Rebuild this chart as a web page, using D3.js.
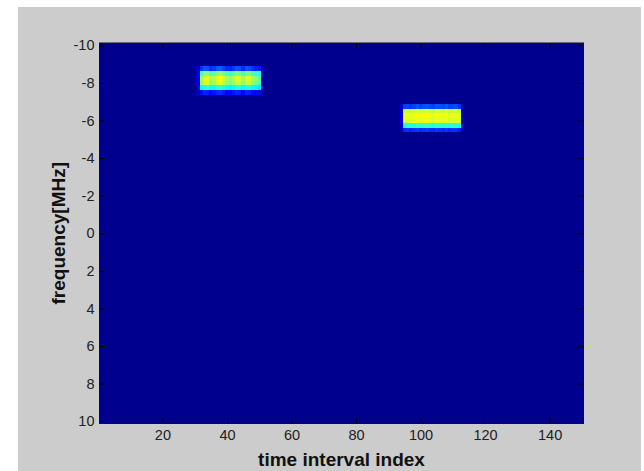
<!DOCTYPE html>
<html>
<head>
<meta charset="utf-8">
<script src="https://cdn.jsdelivr.net/npm/d3@7"></script>
<style>
  html, body { margin: 0; padding: 0; background: #ffffff; }
  svg { display: block; }
  .tick text { font-family: "Liberation Sans", Arial, sans-serif; font-size: 14.5px; fill: #222; }
  .axis-title { font-family: "Liberation Sans", Arial, sans-serif; font-size: 19px; font-weight: bold; fill: #111; }
</style>
</head>
<body>
<svg id="chart" width="644" height="471"></svg>
<script>
// Spectrogram of two narrowband bursts over 150 time intervals.
const timeCount = 150;            // time interval indices 1..150
const freqStep = 0.25;            // MHz per frequency bin
const freqMin = -10, freqMax = 10;

const xTicks = [20, 40, 60, 80, 100, 120, 140];
const yTicks = [-10, -8, -6, -4, -2, 0, 2, 4, 6, 8, 10];

const backgroundLevel = 0;        // normalised power outside the bursts

// Burst 1: around -8 MHz, time intervals 31..51
const burst1Start = 31;
const burst1Freqs = [-8.75, -8.5, -8.25, -8.0, -7.75, -7.5];
const burst1Power = [
  [0.04, 0.16, 0.20, 0.19, 0.15, 0.17, 0.20, 0.21, 0.18, 0.15, 0.14, 0.17, 0.20, 0.19, 0.15, 0.20, 0.18, 0.16, 0.14, 0.13, 0.03],
  [0.07, 0.44, 0.50, 0.50, 0.44, 0.46, 0.50, 0.52, 0.48, 0.44, 0.42, 0.46, 0.50, 0.48, 0.44, 0.50, 0.48, 0.44, 0.42, 0.40, 0.05],
  [0.08, 0.52, 0.60, 0.60, 0.52, 0.54, 0.60, 0.62, 0.58, 0.52, 0.50, 0.54, 0.60, 0.58, 0.52, 0.60, 0.58, 0.52, 0.50, 0.46, 0.06],
  [0.08, 0.50, 0.57, 0.58, 0.50, 0.52, 0.58, 0.60, 0.55, 0.50, 0.48, 0.52, 0.57, 0.56, 0.50, 0.58, 0.56, 0.50, 0.48, 0.44, 0.06],
  [0.05, 0.38, 0.40, 0.41, 0.37, 0.38, 0.41, 0.42, 0.40, 0.37, 0.36, 0.38, 0.40, 0.40, 0.37, 0.40, 0.40, 0.37, 0.36, 0.34, 0.04],
  [0.03, 0.12, 0.15, 0.14, 0.11, 0.13, 0.15, 0.16, 0.14, 0.11, 0.10, 0.13, 0.15, 0.14, 0.11, 0.15, 0.14, 0.12, 0.10, 0.10, 0.02]
];

// Burst 2: around -6 MHz, time intervals 94..113
const burst2Start = 94;
const burst2Freqs = [-6.75, -6.5, -6.25, -6.0, -5.75, -5.5];
const burst2Power = [
  [0.05, 0.17, 0.18, 0.16, 0.18, 0.20, 0.17, 0.19, 0.20, 0.18, 0.17, 0.20, 0.19, 0.18, 0.20, 0.17, 0.18, 0.19, 0.16, 0.04],
  [0.06, 0.55, 0.56, 0.55, 0.57, 0.58, 0.56, 0.57, 0.58, 0.56, 0.55, 0.58, 0.57, 0.56, 0.58, 0.55, 0.56, 0.57, 0.54, 0.05],
  [0.07, 0.59, 0.60, 0.59, 0.60, 0.61, 0.60, 0.61, 0.62, 0.60, 0.59, 0.61, 0.60, 0.60, 0.61, 0.59, 0.60, 0.60, 0.58, 0.06],
  [0.07, 0.58, 0.59, 0.58, 0.59, 0.60, 0.59, 0.60, 0.60, 0.59, 0.58, 0.60, 0.59, 0.59, 0.60, 0.58, 0.59, 0.59, 0.57, 0.06],
  [0.05, 0.40, 0.41, 0.40, 0.41, 0.42, 0.41, 0.41, 0.42, 0.41, 0.40, 0.42, 0.41, 0.40, 0.42, 0.40, 0.41, 0.41, 0.39, 0.04],
  [0.04, 0.15, 0.16, 0.14, 0.16, 0.17, 0.15, 0.16, 0.17, 0.15, 0.15, 0.17, 0.16, 0.15, 0.17, 0.15, 0.16, 0.16, 0.14, 0.03]
];

// Jet colour map
const jetStops = [0, 0.111, 0.365, 0.619, 0.873, 1];
const jetColors = ["#00008f", "#0000ff", "#00ffff", "#ffff00", "#ff0000", "#800000"];

const svg = d3.select("#chart");
const W = 644, H = 471;
const plot = { left: 99.5, right: 583.5, top: 43, bottom: 423.5 };

// Figure background
svg.append("rect")
  .attr("x", 18).attr("y", 7)
  .attr("width", 623).attr("height", H - 7)
  .attr("fill", "#cccccc");

const x = d3.scaleLinear()
  .domain([0.5, timeCount + 0.5])
  .range([plot.left, plot.right]);

const y = d3.scaleLinear()
  .domain([freqMin - freqStep / 2, freqMax + freqStep / 2])
  .range([plot.top, plot.bottom]);

const color = d3.scaleLinear()
  .domain(jetStops)
  .range(jetColors)
  .interpolate(d3.interpolateRgb)
  .clamp(true);

// Image background (all bins at the background level)
svg.append("rect")
  .attr("x", x(0.5)).attr("y", y(freqMin - freqStep / 2))
  .attr("width", x(timeCount + 0.5) - x(0.5))
  .attr("height", y(freqMax + freqStep / 2) - y(freqMin - freqStep / 2))
  .attr("fill", color(backgroundLevel));

function burstCells(start, freqs, power) {
  const cells = [];
  power.forEach((row, r) => {
    row.forEach((v, c) => {
      cells.push({ t: start + c, f: freqs[r], v });
    });
  });
  return cells;
}

const cells = burstCells(burst1Start, burst1Freqs, burst1Power)
  .concat(burstCells(burst2Start, burst2Freqs, burst2Power));

// Each bin is snapped to whole pixels so neighbouring bins meet without seams
svg.append("g")
  .attr("shape-rendering", "crispEdges")
  .selectAll("rect")
  .data(cells)
  .join("rect")
  .attr("x", d => Math.round(x(d.t - 0.5)))
  .attr("y", d => Math.round(y(d.f - freqStep / 2)))
  .attr("width", d => Math.round(x(d.t + 0.5)) - Math.round(x(d.t - 0.5)))
  .attr("height", d => Math.round(y(d.f + freqStep / 2)) - Math.round(y(d.f - freqStep / 2)))
  .attr("fill", d => color(d.v));

// Axes: ticks point inward on all four sides
const tickLen = 5;
function styleAxis(g) {
  g.select(".domain").remove();
  g.selectAll(".tick line").attr("stroke", "#000");
}

svg.append("g")
  .attr("transform", `translate(${plot.left},0)`)
  .call(d3.axisLeft(y).tickValues(yTicks).tickFormat(d3.format("d")).tickSize(-tickLen).tickPadding(5))
  .call(styleAxis)
  .call(g => g.selectAll(".tick text").text(d => d < 0 ? "-" + Math.abs(d) : d));

svg.append("g")
  .attr("transform", `translate(${plot.right},0)`)
  .call(d3.axisRight(y).tickValues(yTicks).tickSize(-tickLen).tickFormat(""))
  .call(styleAxis);

svg.append("g")
  .attr("transform", `translate(0,${plot.bottom})`)
  .call(d3.axisBottom(x).tickValues(xTicks).tickFormat(d3.format("d")).tickSize(-tickLen).tickPadding(6))
  .call(styleAxis);

svg.append("g")
  .attr("transform", `translate(0,${plot.top})`)
  .call(d3.axisTop(x).tickValues(xTicks).tickSize(-tickLen).tickFormat(""))
  .call(styleAxis);

// Axes box
svg.append("rect")
  .attr("x", plot.left).attr("y", plot.top)
  .attr("width", plot.right - plot.left)
  .attr("height", plot.bottom - plot.top)
  .attr("fill", "none")
  .attr("stroke", "#111")
  .attr("stroke-width", 1);

// Axis titles
svg.append("text")
  .attr("class", "axis-title")
  .attr("x", (plot.left + plot.right) / 2)
  .attr("y", 466)
  .attr("text-anchor", "middle")
  .text("time interval index");

svg.append("text")
  .attr("class", "axis-title")
  .attr("transform", `translate(65,${(plot.top + plot.bottom) / 2}) rotate(-90)`)
  .attr("text-anchor", "middle")
  .text("frequency[MHz]");
</script>
</body>
</html>
